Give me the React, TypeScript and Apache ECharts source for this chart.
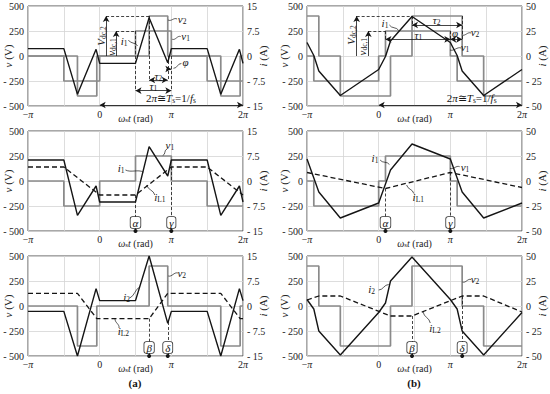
import React, { useEffect, useRef } from "react";
import * as echarts from "echarts";

// ---------------- data: x in multiples of π rad, v in V, i in A ----------------
const xTickText: Record<string, string> = { "-1": "−{m|π}", "0": "0", "1": "{m|π}", "2": "2{m|π}" };

// column (a)
const aV1X = [-1, -0.5, 0, 0.5, 1, 1.5, 2];
const aV1 = [0, -250, 0, 250, 0, -250, -250];
const aV2X = [-1, -0.31, -0.04, 0.69, 0.95, 1.69, 1.96, 2];
const aV2 = [0, -400, 0, 400, 0, -400, 0, 0];
const aIX = [-1, -0.5, -0.31, -0.05, 0, 0.5, 0.69, 0.95, 1, 1.5, 1.69, 1.95, 2];
const aI1Top = [2.2, 2.2, -11.5, 2.0, -2.2, -2.2, 11.5, -2.0, 2.2, 2.2, -11.5, 2.0, -2.2];
const aI1Mid = [6.3, 6.3, -10.3, -1.5, -6.3, -6.3, 10.3, 1.5, 6.3, 6.3, -10.3, -1.5, -6.3];
const aIL1X = [-1, -0.5, 0, 0.5, 1, 1.5, 2];
const aIL1 = [4.2, 4.2, -4.2, -4.2, 4.2, 4.2, -4.2];
const aI2 = [-1.6, -1.6, -15, 5.2, 1.6, 1.6, 15, -5.2, -1.6, -1.6, -15, 5.2, 1.6];
const aIL2X = [-1, -0.31, -0.04, 0.69, 0.95, 1.69, 1.96, 2];
const aIL2 = [3.8, 3.8, -3.8, -3.8, 3.8, 3.8, -3.8, -3.8];

// column (b)
const bV1X = [-1, -0.905, 0, 0.095, 1, 1.095, 2];
const bV1 = [0, -250, 0, 250, 0, -250, -250];
const bV2X = [-1, -0.835, -0.535, 0.165, 0.465, 1.165, 1.465, 2];
const bV2 = [400, 0, -400, 0, 400, 0, -400, -400];
const bIX = [-1, -0.905, -0.835, -0.535, 0, 0.095, 0.165, 0.465, 1, 1.095, 1.165, 1.465, 2];
const bI1Top = [13.5, 0.5, -15, -39.5, -13.5, -0.5, 15, 39.5, 13.5, 0.5, -15, -39.5, -13.5];
const bI1Mid = [22, 3, -11, -37, -22, -3, 11, 37, 22, 3, -11, -37, -22];
const bIL1X = [-1, 0.095, 1, 2];
const bIL1 = [8.5, -7.5, 8.5, -6.5];
const bI2 = [6.5, -3, -25, -49, -6.5, 3, 25, 49, 6.5, -3, -25, -49, -6.5];
const bIL2X = [-1, -0.835, -0.535, 0.165, 0.465, 1.165, 1.465, 2];
const bIL2 = [6, 10, 10, -10, -10, 10, 10, -6];

// ---------------- layout / style ----------------
const SERIF = '"Liberation Serif","DejaVu Serif",serif';
const INK = "#151515";
const GRAY = "#8a8a8a";
const COLX = [28, 307];
const ROWY = [6, 131, 256];
const PW = 215;
const PH = 100;

const zip = (xs: number[], ys: number[]) => xs.map((x, i) => [x, ys[i]]);
const toPx = (g: number, x: number, v: number) => {
  const c = g < 3 ? 0 : 1;
  const r = g % 3;
  return [COLX[c] + ((x + 1) / 3) * PW, ROWY[r] + ((500 - v) / 1000) * PH];
};

type Seg = [number, number, number, number, string];
type Txt = [number, number, string, number?];
type Sq = [number, number, number, number];

interface Panel {
  col: number;
  row: number;
  iMax: number;
  steps: [number[], number[]][];
  solid: [number[], number[]];
  dash: [number[], number[]] | null;
  segs: Seg[];
  texts: Txt[];
  squig: Sq[];
  boxes: [number, string][];
}

const R = Math.PI / 2;
const panels: Panel[] = [
  {
    col: 0, row: 0, iMax: 15,
    steps: [[aV1X, aV1], [aV2X, aV2]], solid: [aIX, aI1Top], dash: null,
    segs: [
      [0.09, 0, 0.09, 400, "a"], [0.23, 0, 0.23, 250, "a"],
      [0.09, 400, 0.69, 400, "d"], [0.23, 250, 0.5, 250, "d"],
      [0.5, 250, 0.5, -347, "d"], [0.69, 400, 0.69, -240, "d"],
      [0.95, 0, 0.95, -240, "d"], [1.0, 0, 1.0, -347, "d"],
      [0.69, -240, 0.95, -240, "aa"], [0.5, -347, 1.0, -347, "aa"],
      [0.93, -130, 1.0, -130, "a"], [0, -490, 2, -490, "aa"],
    ],
    texts: [
      [0.018, 200, "{it|V}{sub|dc,2}", R], [0.158, 90, "{it|v}{sub|dc,1}", R],
      [0.34, 150, "{it|i}{sub|1}"], [1.15, 370, "{it|v}{sub|2}"], [1.2, 200, "{it|v}{sub|1}"],
      [1.2, -60, "{it|φ}"], [0.82, -195, "{it|τ}{sub|2}"], [0.75, -300, "{it|τ}{sub|1}"],
      [0.995, -415, "2{it|π}≅{it|T}{sub|s}=1/{it|f}{sub|s}"],
    ],
    squig: [[0.4, 160, 0.53, 100], [0.955, 360, 1.08, 370], [1.013, 167, 1.13, 195], [1.03, -123, 1.14, -75]],
    boxes: [],
  },
  {
    col: 0, row: 1, iMax: 15,
    steps: [[aV1X, aV1]], solid: [aIX, aI1Mid], dash: [aIL1X, aIL1],
    segs: [
      [0.5, -140, 0.5, -365, "d"], [1.0, 140, 1.0, -365, "d"],
      [0.5, -500, 0.5, -465, "dot"], [1.0, -500, 1.0, -465, "dot"],
    ],
    texts: [[0.98, 360, "{it|v}{sub|1}"], [0.3, 127, "{it|i}{sub|1}"], [0.84, -160, "{it|i}{sub|L1}"]],
    squig: [[0.88, 255, 0.94, 320], [0.36, 110, 0.61, 90], [0.655, -40, 0.77, -140]],
    boxes: [[0.5, "α"], [1.0, "γ"]],
  },
  {
    col: 0, row: 2, iMax: 15,
    steps: [[aV2X, aV2]], solid: [aIX, aI2], dash: [aIL2X, aIL2],
    segs: [
      [0.69, -127, 0.69, -365, "d"], [0.95, -160, 0.95, -365, "d"],
      [0.69, -500, 0.69, -465, "dot"], [0.95, -500, 0.95, -465, "dot"],
    ],
    texts: [[1.145, 330, "{it|v}{sub|2}"], [0.377, 93, "{it|i}{sub|2}"], [0.33, -245, "{it|i}{sub|L2}"]],
    squig: [[0.957, 300, 1.09, 330], [0.42, 80, 0.56, 190], [0.215, -125, 0.27, -220]],
    boxes: [[0.69, "β"], [0.95, "δ"]],
  },
  {
    col: 1, row: 0, iMax: 50,
    steps: [[bV1X, bV1], [bV2X, bV2]], solid: [bIX, bI1Top], dash: null,
    segs: [
      [-0.307, 0, -0.307, 400, "a"], [-0.144, 0, -0.144, 250, "a"],
      [-0.307, 400, 0.465, 400, "d"], [-0.144, 250, 0.095, 250, "d"],
      [0.095, 250, 0.095, 167, "d"], [0.465, 400, 0.465, 310, "d"],
      [1.0, 250, 1.0, 167, "d"], [1.165, 400, 1.165, 167, "d"],
      [0.465, 310, 1.165, 310, "aa"], [0.095, 167, 1.0, 167, "aa"],
      [1.0, 167, 1.165, 167, "aa"], [0, -490, 2, -490, "aa"],
    ],
    texts: [
      [-0.386, 210, "{it|V}{sub|dc,2}", R], [-0.228, 93, "{it|v}{sub|dc,1}", R],
      [0.088, 327, "{it|i}{sub|1}"], [0.81, 360, "{it|τ}{sub|2}"], [0.553, 210, "{it|τ}{sub|1}"],
      [1.065, 227, "{it|φ}"], [1.344, 243, "{it|v}{sub|2}"], [1.205, 93, "{it|v}{sub|1}"],
      [1.298, -415, "2{it|π}≅{it|T}{sub|s}=1/{it|f}{sub|s}"],
    ],
    squig: [[0.15, 310, 0.28, 255], [1.16, 210, 1.29, 230], [0.995, 60, 1.15, 80]],
    boxes: [],
  },
  {
    col: 1, row: 1, iMax: 50,
    steps: [[bV1X, bV1]], solid: [bIX, bI1Mid], dash: [bIL1X, bIL1],
    segs: [
      [0.095, -75, 0.095, -365, "d"], [1.0, 85, 1.0, -365, "d"],
      [0.095, -500, 0.095, -465, "dot"], [1.0, -500, 1.0, -465, "dot"],
    ],
    texts: [[-0.051, 227, "{it|i}{sub|1}"], [1.205, 143, "{it|v}{sub|1}"], [0.553, -157, "{it|i}{sub|L1}"]],
    squig: [[0.02, 210, 0.15, 165], [0.995, 127, 1.13, 143], [0.39, -40, 0.49, -125]],
    boxes: [[0.095, "α"], [1.0, "γ"]],
  },
  {
    col: 1, row: 2, iMax: 50,
    steps: [[bV2X, bV2]], solid: [bIX, bI2], dash: [bIL2X, bIL2],
    segs: [
      [0.465, -100, 0.465, -365, "d"], [1.165, 100, 1.165, -365, "d"],
      [0.465, -500, 0.465, -465, "dot"], [1.165, -500, 1.165, -465, "dot"],
    ],
    texts: [[1.344, 267, "{it|v}{sub|2}"], [-0.098, 167, "{it|i}{sub|2}"], [0.786, -217, "{it|i}{sub|L2}"]],
    squig: [[1.17, 240, 1.29, 265], [0.0, 160, 0.14, 215], [0.62, -60, 0.72, -170]],
    boxes: [[0.465, "β"], [1.165, "δ"]],
  },
];

const GR: any = {
  it: { fontFamily: SERIF, fontStyle: "italic", fontSize: 11, fill: INK, color: INK, lineHeight: 13 },
  sub: { fontFamily: SERIF, fontSize: 7.5, fill: INK, color: INK, verticalAlign: "bottom", lineHeight: 9 },
};

const fmtSigned = (v: number) => (v < 0 ? "- " + String(-v) : String(v));

function buildOption() {
  const grid: any[] = [];
  const xAxis: any[] = [];
  const yAxis: any[] = [];
  const series: any[] = [];
  const graphic: any[] = [];

  panels.forEach((p, g) => {
    grid.push({
      left: COLX[p.col], top: ROWY[p.row], width: PW, height: PH,
      show: true, borderColor: "#505050", borderWidth: 1, backgroundColor: "rgba(0,0,0,0)",
    });
    xAxis.push({
      gridIndex: g, type: "value", min: -1, max: 2, interval: 0.5,
      axisLine: { show: false }, axisTick: { show: false },
      splitLine: { show: true, lineStyle: { color: "#d4d4d4", width: 0.8 } },
      axisLabel: {
        showMinLabel: true, showMaxLabel: true, margin: 3,
        fontFamily: SERIF, fontSize: 10, color: "#222",
        formatter: (val: number) => xTickText[String(Math.round(val * 2) / 2)] ?? "",
        rich: { m: { fontFamily: SERIF, fontStyle: "italic", fontSize: 10, color: "#222" } },
      },
      name: "{it|ω}{sub|s}{it|t} (rad)", nameLocation: "middle", nameGap: 7, nameMoveOverlap: false,
      nameTextStyle: {
        fontFamily: SERIF, fontSize: 10, color: "#222",
        rich: {
          it: { fontFamily: SERIF, fontStyle: "italic", fontSize: 10, color: "#222" },
          sub: { fontFamily: SERIF, fontSize: 7, color: "#222", verticalAlign: "bottom", lineHeight: 8 },
        },
      },
    });
    const nameStyle = {
      fontFamily: SERIF, fontSize: 11, color: "#222",
      rich: { it: { fontFamily: SERIF, fontStyle: "italic", fontSize: 11, color: "#222" } },
    };
    yAxis.push({
      gridIndex: g, type: "value", position: "left", min: -500, max: 500, interval: 250,
      axisLine: { show: false }, axisTick: { show: false },
      splitLine: { show: true, lineStyle: { color: "#d4d4d4", width: 0.8 } },
      axisLabel: { margin: 4, fontFamily: SERIF, fontSize: 10, color: "#222", formatter: fmtSigned },
      name: "{it|v} (V)", nameLocation: "middle", nameRotate: 90, nameGap: p.col === 0 ? 15 : 18,
      nameMoveOverlap: false, nameTextStyle: nameStyle,
    });
    yAxis.push({
      gridIndex: g, type: "value", position: "right", min: -p.iMax, max: p.iMax, interval: p.iMax / 2,
      axisLine: { show: false }, axisTick: { show: false }, splitLine: { show: false },
      axisLabel: { margin: 4, fontFamily: SERIF, fontSize: 10, color: "#222", formatter: fmtSigned },
      name: "{it|i} (A)", nameLocation: "middle", nameRotate: 90, nameGap: 14,
      nameMoveOverlap: false, nameTextStyle: nameStyle,
    });

    const markData = p.segs.map(([x1, v1, x2, v2, k]) => {
      const start: any = {
        coord: [x1, v1],
        symbol: k === "aa" ? "arrow" : k === "dot" ? "circle" : "none",
        symbolSize: k === "dot" ? 4 : [5, 6],
        lineStyle: { type: k === "d" ? [3, 2] : "solid", width: 0.8, color: INK },
        itemStyle: { color: INK },
      };
      const end: any = {
        coord: [x2, v2],
        symbol: k === "a" || k === "aa" ? "arrow" : "none",
        symbolSize: [5, 6],
        itemStyle: { color: INK },
      };
      return [start, end];
    });

    p.steps.forEach(([xs, ys], si) => {
      series.push({
        type: "line", xAxisIndex: g, yAxisIndex: 2 * g, data: zip(xs, ys), step: "end",
        symbol: "none", silent: true, z: 2,
        lineStyle: { color: GRAY, width: 1.7 },
        markLine: si === 0 ? {
          silent: true, animation: false, label: { show: false },
          symbol: ["none", "none"], lineStyle: { color: INK, width: 0.8 },
          itemStyle: { color: INK }, data: markData,
        } : undefined,
      });
    });
    if (p.dash) {
      series.push({
        type: "line", xAxisIndex: g, yAxisIndex: 2 * g + 1, data: zip(p.dash[0], p.dash[1]),
        symbol: "none", silent: true, z: 3,
        lineStyle: { color: INK, width: 1.3, type: [5, 3] },
      });
    }
    series.push({
      type: "line", xAxisIndex: g, yAxisIndex: 2 * g + 1, data: zip(p.solid[0], p.solid[1]),
      symbol: "none", silent: true, z: 4,
      lineStyle: { color: INK, width: 1.4 },
    });

    p.texts.forEach(([x, v, text, rot]) => {
      const [px, py] = toPx(g, x, v);
      graphic.push({
        type: "text", x: px, y: py, rotation: rot || 0, silent: true, z: 20,
        style: { text, rich: GR, align: "center", verticalAlign: "middle", fill: INK, font: `11px ${SERIF}` },
      });
    });
    p.squig.forEach(([x1, v1, x2, v2]) => {
      const [ax, ay] = toPx(g, x1, v1);
      const [bx, by] = toPx(g, x2, v2);
      const dx = bx - ax, dy = by - ay;
      const len = Math.hypot(dx, dy) || 1;
      const nx = (-dy / len) * 2.2, ny = (dx / len) * 2.2;
      graphic.push({
        type: "bezierCurve", silent: true, z: 20,
        shape: {
          x1: ax, y1: ay, x2: bx, y2: by,
          cpx1: ax + dx / 3 + nx, cpy1: ay + dy / 3 + ny,
          cpx2: ax + (2 * dx) / 3 - nx, cpy2: ay + (2 * dy) / 3 - ny,
        },
        style: { stroke: INK, lineWidth: 0.7, fill: null },
      });
    });
    p.boxes.forEach(([x, t]) => {
      const [px, py] = toPx(g, x, -415);
      graphic.push({
        type: "text", x: px, y: py, silent: true, z: 21,
        style: {
          text: t, align: "center", verticalAlign: "middle", fill: INK,
          font: `italic 11px ${SERIF}`, backgroundColor: "#fff", borderColor: "#333",
          borderWidth: 0.8, borderRadius: 2, padding: [0, 2, 0, 2],
        },
      });
    });
  });

  graphic.push(
    { type: "text", x: 135, y: 383, silent: true, style: { text: "(a)", align: "center", verticalAlign: "middle", fill: INK, font: `bold 11px ${SERIF}` } },
    { type: "text", x: 414, y: 383, silent: true, style: { text: "(b)", align: "center", verticalAlign: "middle", fill: INK, font: `bold 11px ${SERIF}` } },
  );

  return { animation: false, backgroundColor: "#fff", grid, xAxis, yAxis, series, graphic };
}

export default function App() {
  const ref = useRef<HTMLDivElement>(null);
  useEffect(() => {
    const chart = echarts.init(ref.current as HTMLDivElement, null, { renderer: "svg" });
    chart.setOption(buildOption() as any);
    return () => chart.dispose();
  }, []);
  return <div ref={ref} style={{ position: "fixed", left: 0, top: 0, width: 550, height: 394 }} />;
}
